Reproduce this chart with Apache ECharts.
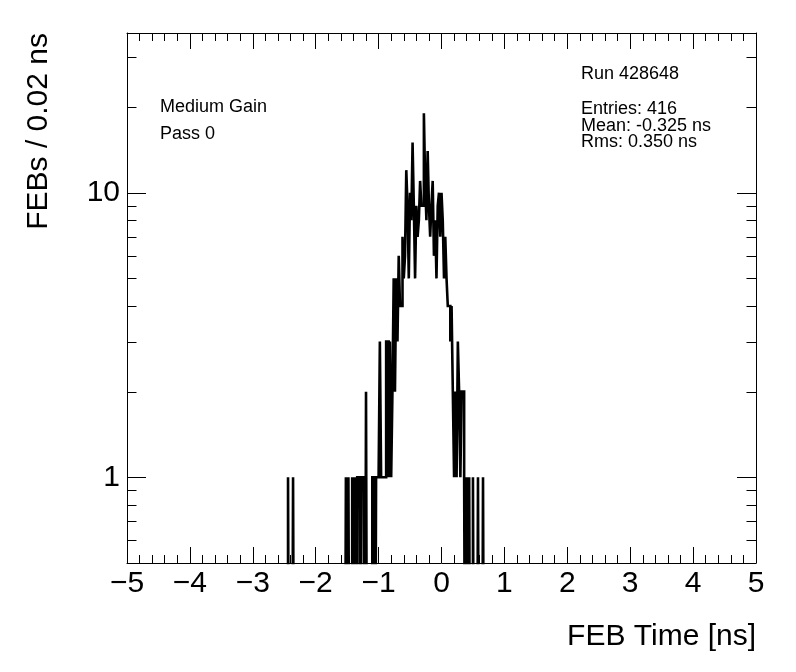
<!DOCTYPE html>
<html>
<head>
<meta charset="utf-8">
<script src="https://cdn.jsdelivr.net/npm/echarts@6/dist/echarts.min.js"></script>
<style>
html,body{margin:0;padding:0;background:#fff;}
#chart{width:796px;height:672px;}
</style>
</head>
<body>
<div id="chart"></div>
<script>
// ---- data ----
const xMin = -5, xMax = 5, binWidth = 0.02;
const yMin = 0.5, yMax = 36.4;
const xTicks = [-5, -4, -3, -2, -1, 0, 1, 2, 3, 4, 5];
const yLabelTicks = [1, 10];
const yMinorTicks = [0.6, 0.7, 0.8, 0.9, 2, 3, 4, 5, 6, 7, 8, 9, 20, 30];
// isolated bins on the left (low edges, ns) and their counts
const tailLowEdges = [-2.44, -2.36, -1.52, -1.48, -1.42, -1.38, -1.34, -1.32, -1.28, -1.26, -1.24, -1.20, -1.10, -1.08, -1.04, -1.02, -1.00];
const tailCounts   = [1, 1, 1, 1, 1, 1, 1, 1, 1, 1, 1, 2, 1, 1, 1, 1, 1];
// contiguous core, bins starting at coreStart
const coreStart = -0.98;
const coreCounts = [3,1,1,1,1,3,3,1,3,1, 2,5,2,5,3,6,4,4,7,5, 6,12,9,5,10,8,15,9,5,9,
                    7,8,11,9,9,19,11,8,14,9, 7,9,11,6,8,5,9,10,7,10, 8,5,7,5,4,4,3,4,2,1,
                    2,1,3,2,1,2,2,1,0,1];
// isolated bins on the right
const rightLowEdges = [0.44, 0.50, 0.58, 0.66];
const rightCounts   = [1, 1, 1, 1];
const statsLines = ['Entries: 416', 'Mean: -0.325 ns', 'Rms: 0.350 ns'];

// ---- build histogram ----
const nBins = Math.round((xMax - xMin) / binWidth);
const counts = new Array(nBins).fill(0);
function put(edge, c) { const k = Math.round((edge - xMin) / binWidth); counts[k] += c; }
tailLowEdges.forEach((e, i) => put(e, tailCounts[i]));
coreCounts.forEach((c, i) => put(coreStart + i * binWidth, c));
rightLowEdges.forEach((e, i) => put(e, rightCounts[i]));
const floorVal = 0.05; // empty bins fall below the frame
const histData = [];
for (let k = 0; k < nBins; k++) {
  histData.push([+(xMin + k * binWidth).toFixed(4), counts[k] > 0 ? counts[k] : floorVal]);
}
histData.push([xMax, floorVal]);

const tickData = [];
yLabelTicks.forEach(v => tickData.push([xMin, v, 19]));
yMinorTicks.forEach(v => tickData.push([xMin, v, 9.5]));

const FONT = '"Liberation Sans", Arial, Helvetica, sans-serif';
const chart = echarts.init(document.getElementById('chart'), null, {renderer: 'canvas'});
const fmtX = v => (v < 0 ? '\u2212' + Math.abs(v) : String(v));

const xAxisCommon = {
  type: 'value', min: xMin, max: xMax, interval: 1,
  axisLine: {show: true, onZero: false, lineStyle: {color: '#000', width: 1}},
  axisTick: {show: true, inside: true, length: 16, lineStyle: {color: '#000', width: 1}},
  minorTick: {show: true, splitNumber: 5, length: 8, lineStyle: {color: '#000', width: 1}},
  splitLine: {show: false}, minorSplitLine: {show: false}
};

chart.setOption({
  animation: false,
  backgroundColor: '#fff',
  grid: {left: 127, right: 40, top: 33, bottom: 109, containLabel: false, outerBoundsMode: 'none'},
  xAxis: [
    Object.assign({}, xAxisCommon, {
      position: 'bottom',
      axisLabel: {show: true, margin: 6, fontSize: 30, color: '#000', fontFamily: FONT, formatter: fmtX,
                  showMinLabel: true, showMaxLabel: true}
    }),
    Object.assign({}, xAxisCommon, {position: 'top', axisLabel: {show: false}})
  ],
  yAxis: [
    {
      type: 'log', logBase: 10, min: yMin, max: yMax, position: 'left',
      axisLine: {show: true, onZero: false, lineStyle: {color: '#000', width: 1}},
      axisTick: {show: false}, minorTick: {show: false},
      splitLine: {show: false},
      axisLabel: {
        show: true, margin: 7, fontSize: 30, color: '#000', fontFamily: FONT,
        showMinLabel: false, showMaxLabel: false,
        formatter: v => {
          for (const t of yLabelTicks) { if (Math.abs(v - t) < 1e-6 * t) return String(t); }
          return '';
        }
      }
    },
    {
      type: 'log', logBase: 10, min: yMin, max: yMax, position: 'right',
      axisLine: {show: true, onZero: false, lineStyle: {color: '#000', width: 1}},
      axisTick: {show: false}, axisLabel: {show: false}, splitLine: {show: false}
    }
  ],
  series: [
    {
      type: 'custom', xAxisIndex: 0, yAxisIndex: 0, silent: true,
      encode: {x: 0, y: 1},
      data: tickData,
      renderItem: function (params, api) {
        const v = api.value(1), len = api.value(2);
        const pL = api.coord([xMin, v]);
        const pR = api.coord([xMax, v]);
        const y = Math.round(pL[1]) + 0.5;
        return {
          type: 'group',
          children: [
            {type: 'line', shape: {x1: pL[0], y1: y, x2: pL[0] + len, y2: y}, style: {stroke: '#000', lineWidth: 1}},
            {type: 'line', shape: {x1: pR[0], y1: y, x2: pR[0] - len, y2: y}, style: {stroke: '#000', lineWidth: 1}}
          ]
        };
      }
    },
    {
      type: 'line', xAxisIndex: 0, yAxisIndex: 0,
      data: histData, step: 'end', showSymbol: false, symbol: 'none',
      clip: true, silent: true,
      lineStyle: {color: '#000', width: 2.6, join: 'miter', cap: 'butt'}
    }
  ],
  graphic: [
    {type: 'text', x: 160, y: 107.5, style: {text: 'Medium Gain', font: '18px ' + FONT, fill: '#000', verticalAlign: 'middle', align: 'left'}},
    {type: 'text', x: 160, y: 134.5, style: {text: 'Pass 0', font: '18px ' + FONT, fill: '#000', verticalAlign: 'middle', align: 'left'}},
    {type: 'text', x: 581, y: 74.5, style: {text: 'Run 428648', font: '18px ' + FONT, fill: '#000', verticalAlign: 'middle', align: 'left'}},
    {type: 'text', x: 581, y: 109.5, style: {text: statsLines[0], font: '18px ' + FONT, fill: '#000', verticalAlign: 'middle', align: 'left'}},
    {type: 'text', x: 581, y: 126, style: {text: statsLines[1], font: '18px ' + FONT, fill: '#000', verticalAlign: 'middle', align: 'left'}},
    {type: 'text', x: 581, y: 142.5, style: {text: statsLines[2], font: '18px ' + FONT, fill: '#000', verticalAlign: 'middle', align: 'left'}},
    {type: 'text', x: 756, y: 637, style: {text: 'FEB Time [ns]', font: '30px ' + FONT, fill: '#000', verticalAlign: 'middle', align: 'right'}},
    {type: 'text', x: 39, y: 33, rotation: Math.PI / 2, style: {text: 'FEBs / 0.02 ns', font: '30px ' + FONT, fill: '#000', verticalAlign: 'middle', align: 'right'}}
  ]
});
</script>
</body>
</html>
